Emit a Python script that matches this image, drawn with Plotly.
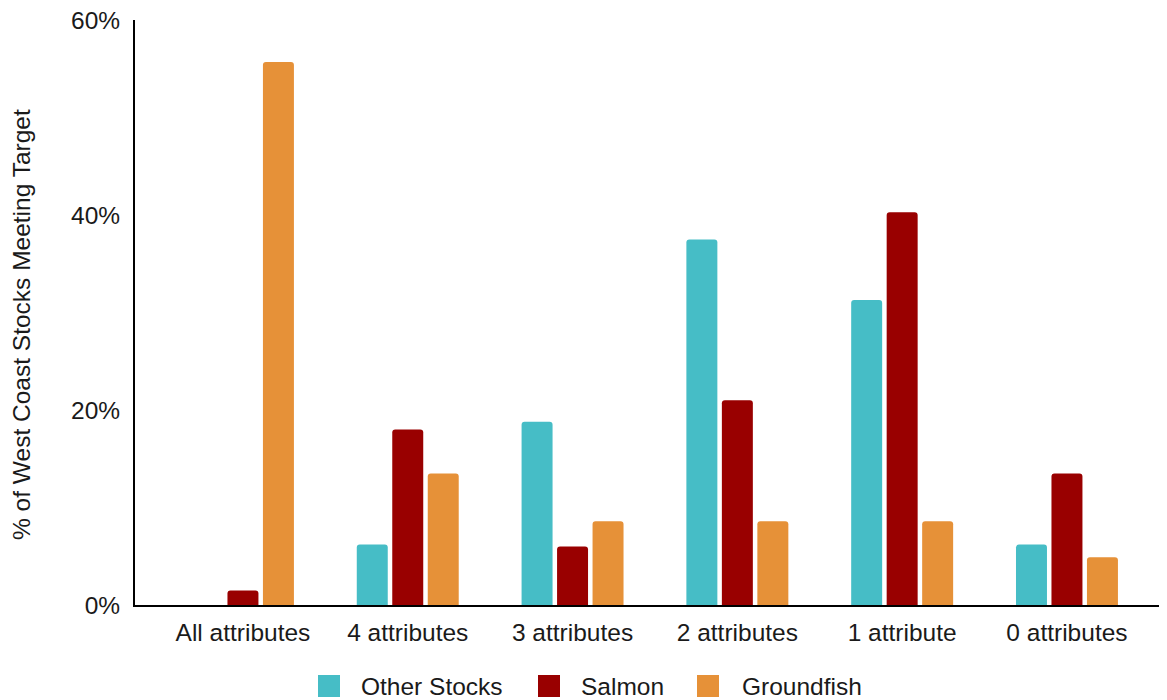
import plotly.graph_objects as go

categories = ["All attributes", "4 attributes", "3 attributes", "2 attributes", "1 attribute", "0 attributes"]
series_names = ["Other Stocks", "Salmon", "Groundfish"]
other_stocks = [0.0, 6.2, 18.8, 37.5, 31.3, 6.2]
salmon = [1.5, 18.0, 6.0, 21.0, 40.3, 13.5]
groundfish = [55.7, 13.5, 8.6, 8.6, 8.6, 4.9]
colors = ["#46BDC6", "#990000", "#E69138"]
y_ticks = [0, 20, 40, 60]
y_tick_labels = ["0%", "20%", "40%", "60%"]
y_title = "% of West Coast Stocks Meeting Target"

FONT = "Liberation Sans, Arial, sans-serif"
TXT = "#1a1a1a"
FS = 24.5

# page body has an 8px default margin: shift the whole figure by it
OFF = 8
FIG_W, FIG_H = 1167 - OFF, 700 - OFF
# plot area in screen pixels
L, R, T, B = 135, 1167, 20, 605
W, H = R - L, B - T

def px(x):
    return (x - L) / W

def py(y):
    return (B - y) / H

fig = go.Figure()
for name, vals, col in zip(series_names, [other_stocks, salmon, groundfish], colors):
    fig.add_trace(go.Bar(
        x=categories, y=vals, name=name, marker_color=col,
        marker_line_width=0, marker_cornerradius=3, showlegend=False,
    ))

# manual legend
legend_swatch_x = [318, 538, 697]
legend_text_x = [359, 579, 740]
shapes = []
annotations = []
for name, col, sx, tx in zip(series_names, colors, legend_swatch_x, legend_text_x):
    shapes.append(dict(type="rect", xref="paper", yref="paper",
                       x0=px(sx), x1=px(sx + 22), y0=py(675), y1=py(697),
                       fillcolor=col, line=dict(width=0), layer="above"))
    annotations.append(dict(text=name, xref="paper", yref="paper",
                            x=px(tx), y=py(686), xanchor="left", yanchor="middle",
                            showarrow=False, font=dict(size=FS, color=TXT, family=FONT)))

annotations.append(dict(text=y_title, xref="paper", yref="paper",
                        x=px(22), y=py(325), xanchor="center", yanchor="middle",
                        textangle=-90, showarrow=False,
                        font=dict(size=FS, color=TXT, family=FONT)))

fig.update_layout(
    width=FIG_W, height=FIG_H,
    margin=dict(l=L - OFF, r=1167 - R, t=T - OFF, b=700 - B, autoexpand=False),
    paper_bgcolor="white", plot_bgcolor="white",
    font=dict(family=FONT, size=FS, color=TXT),
    barmode="group", bargap=0.354, bargroupgap=0.127,
    showlegend=False,
    shapes=shapes, annotations=annotations,
    xaxis=dict(
        type="category", range=[-0.655, 5.607],
        showline=True, linecolor="black", linewidth=2,
        ticks="", showgrid=False, ticklabelstandoff=5, automargin=False,
        tickfont=dict(size=FS, color=TXT),
    ),
    yaxis=dict(
        range=[0, 60.02], tickvals=y_ticks, ticktext=y_tick_labels,
        showline=True, linecolor="black", linewidth=2,
        ticks="", showgrid=False, zeroline=False, ticklabelstandoff=8,
        ticklabeloverflow="allow", automargin=False,
        tickfont=dict(size=FS, color=TXT),
    ),
)

fig.write_html("out.html")
